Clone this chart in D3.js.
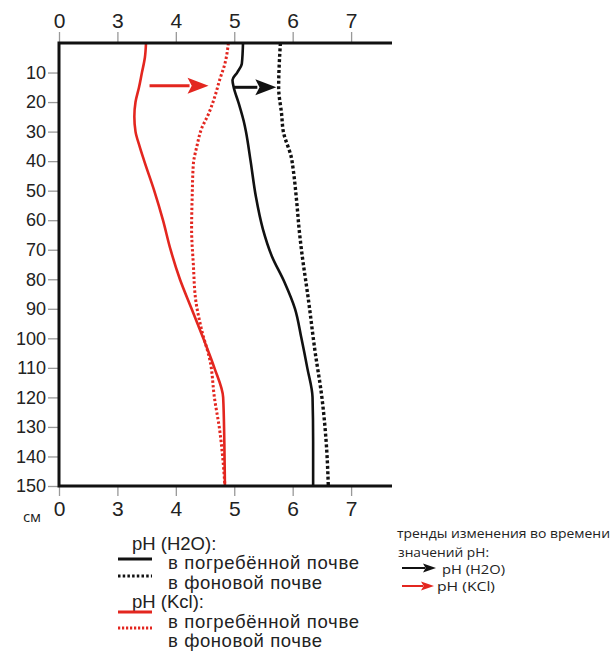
<!DOCTYPE html>
<html>
<head>
<meta charset="utf-8">
<script src="https://cdn.jsdelivr.net/npm/d3@7"></script>
<style>
  body { margin: 0; background: #fff; }
  svg { display: block; }
</style>
</head>
<body>
<svg id="chart"></svg>
<script>
// pH axis is broken: 0, then 3..7
const phTicks = [0, 3, 4, 5, 6, 7];
const depthTicks = [10, 20, 30, 40, 50, 60, 70, 80, 90, 100, 110, 120, 130, 140, 150];

// pH (H2O), buried soil
const h2oBuriedDepth = [0, 7, 10, 12.5, 15, 20, 28, 30, 40, 52, 63, 72, 81, 90, 100, 110, 120, 135, 150];
const h2oBuriedPH    = [5.15, 5.13, 5.05, 4.97, 4.99, 5.07, 5.18, 5.20, 5.28, 5.37, 5.49, 5.64, 5.86, 6.04, 6.15, 6.25, 6.34, 6.35, 6.35];

// pH (H2O), background soil
const h2oBackDepth = [0, 15, 24, 30, 39, 43, 54, 63, 70, 87, 104, 120, 137, 150];
const h2oBackPH    = [5.79, 5.76, 5.81, 5.84, 5.98, 6.01, 6.07, 6.11, 6.15, 6.27, 6.38, 6.50, 6.58, 6.61];

// pH (KCl), buried soil
const kclBuriedDepth = [0, 5, 10, 15, 20, 25, 30, 35, 40, 50, 60, 70, 80, 90, 100, 110, 120, 135, 150];
const kclBuriedPH    = [3.49, 3.47, 3.42, 3.37, 3.31, 3.29, 3.31, 3.38, 3.46, 3.63, 3.78, 3.91, 4.07, 4.27, 4.47, 4.66, 4.81, 4.83, 4.84];

// pH (KCl), background soil
const kclBackDepth = [0, 7, 12.5, 18, 24, 29, 35, 41, 52, 63, 75, 87, 97, 108, 120, 131, 142, 150];
const kclBackPH    = [4.90, 4.84, 4.75, 4.67, 4.56, 4.44, 4.36, 4.30, 4.28, 4.27, 4.30, 4.34, 4.44, 4.59, 4.66, 4.75, 4.81, 4.84];

// trend arrows drawn inside the plot: [from pH, to pH] at a depth
const trendArrows = [
  { from: 3.55, to: 4.56, depth: 14.5, color: "red" },
  { from: 4.98, to: 5.72, depth: 15, color: "black" }
];

const RED = "#e3261f";
const BLACK = "#111";

const width = 613, height = 655;
const svg = d3.select("#chart").attr("width", width).attr("height", height);

// broken scale: 0 sits where 2 would be
const x = d3.scaleLinear().domain([0, 3, 7.7]).range([59, 117.4, 392]);
const y = d3.scaleLinear().domain([0, 150]).range([43, 486]);

const zip = (ds, ps) => ds.map((d, i) => ({ depth: d, ph: ps[i] }));
const series = [
  { data: zip(kclBuriedDepth, kclBuriedPH), color: RED, dash: null, w: 2.6 },
  { data: zip(kclBackDepth, kclBackPH), color: RED, dash: "2.4,2.2", w: 3 },
  { data: zip(h2oBuriedDepth, h2oBuriedPH), color: BLACK, dash: null, w: 2.6 },
  { data: zip(h2oBackDepth, h2oBackPH), color: BLACK, dash: "3,2.4", w: 3.4 }
];

const line = d3.line()
  .x(d => x(d.ph))
  .y(d => y(d.depth))
  .curve(d3.curveMonotoneY);

svg.append("g")
  .selectAll("path")
  .data(series)
  .join("path")
  .attr("fill", "none")
  .attr("stroke", d => d.color)
  .attr("stroke-width", d => d.w)
  .attr("stroke-dasharray", d => d.dash)
  .attr("d", d => line(d.data));

// arrows
function arrow(g, x1, x2, yy, color, headLen, headHalf, w) {
  g.append("line")
    .attr("x1", x1).attr("x2", x2 - headLen + 2)
    .attr("y1", yy).attr("y2", yy)
    .attr("stroke", color).attr("stroke-width", w);
  g.append("path")
    .attr("d", `M${x2},${yy}L${x2 - headLen},${yy - headHalf}L${x2 - headLen * 0.8},${yy}L${x2 - headLen},${yy + headHalf}Z`)
    .attr("fill", color);
}
const arrowsG = svg.append("g");
trendArrows.forEach(a => {
  arrow(arrowsG, x(a.from), x(a.to), y(a.depth), a.color === "red" ? RED : BLACK, 21, 8, 3);
});

// axes
const tickFmt = d => String(d);
svg.append("g")
  .attr("transform", `translate(0,${y(0)})`)
  .call(d3.axisTop(x).tickValues(phTicks).tickFormat(tickFmt).tickSize(11).tickPadding(4))
  .call(g => g.select(".domain").remove())
  .call(g => g.selectAll(".tick line").attr("stroke", "#999").attr("stroke-width", 1.3))
  .call(g => g.selectAll(".tick text").attr("font-size", 21).attr("fill", "#222")
    .attr("font-family", "Liberation Sans, Arial, sans-serif"));

svg.append("g")
  .attr("transform", `translate(0,${y(150)})`)
  .call(d3.axisBottom(x).tickValues(phTicks).tickFormat(tickFmt).tickSize(10).tickPadding(5))
  .call(g => g.select(".domain").remove())
  .call(g => g.selectAll(".tick line").attr("stroke", "#999").attr("stroke-width", 1.3))
  .call(g => g.selectAll(".tick text").attr("font-size", 21).attr("fill", "#222")
    .attr("font-family", "Liberation Sans, Arial, sans-serif"));

svg.append("g")
  .attr("transform", `translate(${x(0)},0)`)
  .call(d3.axisLeft(y).tickValues(depthTicks).tickSize(11).tickPadding(2))
  .call(g => g.select(".domain").remove())
  .call(g => g.selectAll(".tick line").attr("stroke", "#999").attr("stroke-width", 1.3))
  .call(g => g.selectAll(".tick text").attr("font-size", 18).attr("fill", "#222")
    .attr("font-family", "Liberation Sans, Arial, sans-serif"));

// frame lines (top, left, bottom)
svg.append("path")
  .attr("d", `M${x(7.7)},${y(0)}H${x(0)}V${y(150)}H${x(7.7)}`)
  .attr("fill", "none")
  .attr("stroke", BLACK)
  .attr("stroke-width", 3);

svg.append("text")
  .attr("x", 32).attr("y", 522)
  .attr("text-anchor", "middle")
  .attr("font-family", "Open Sans, sans-serif")
  .attr("font-size", 15)
  .attr("fill", "#222")
  .text("см");

// legend (series)
const legendRows = [
  { type: "head", text: "pH (H2O):", y: 550 },
  { type: "item", text: "в погребённой почве", y: 569, color: BLACK, dash: null, ly: 559 },
  { type: "item", text: "в фоновой почве", y: 589, color: BLACK, dash: "2.5,2.2", ly: 576 },
  { type: "head", text: "pH (Kcl):", y: 608 },
  { type: "item", text: "в погребённой почве", y: 628, color: RED, dash: null, ly: 612 },
  { type: "item", text: "в фоновой почве", y: 647, color: RED, dash: "2.2,1.8", ly: 628 }
];
const leg = svg.append("g")
  .attr("font-family", "Liberation Sans, Arial, sans-serif")
  .attr("fill", "#222");
legendRows.forEach(r => {
  const t = leg.append("text")
    .attr("x", r.type === "head" ? 132 : 168)
    .attr("y", r.y)
    .attr("font-size", 18.5)
    .text(r.text);
  if (r.text === "в погребённой почве") t.attr("textLength", 191);
  if (r.text === "в фоновой почве") t.attr("textLength", 154);
  if (r.type === "item") {
    leg.append("line")
      .attr("x1", 118).attr("x2", 152)
      .attr("y1", r.ly).attr("y2", r.ly)
      .attr("stroke", r.color)
      .attr("stroke-width", 3)
      .attr("stroke-dasharray", r.dash);
  }
});

// legend (trends)
const trend = svg.append("g")
  .attr("font-family", "Open Sans, sans-serif")
  .attr("font-size", 13.5)
  .attr("fill", "#222");
trend.append("text").attr("x", 397).attr("y", 538)
  .attr("textLength", 213).attr("lengthAdjust", "spacingAndGlyphs")
  .text("тренды изменения во времени");
trend.append("text").attr("x", 398).attr("y", 557)
  .attr("textLength", 91).attr("lengthAdjust", "spacingAndGlyphs")
  .text("значений pH:");
arrow(trend, 402, 436, 568, BLACK, 13, 4.5, 2);
trend.append("text").attr("x", 442).attr("y", 574)
  .attr("textLength", 63).attr("lengthAdjust", "spacingAndGlyphs")
  .text("pH (H2O)");
arrow(trend, 402, 434, 586, RED, 13, 4.5, 2);
trend.append("text").attr("x", 437).attr("y", 591)
  .attr("textLength", 58).attr("lengthAdjust", "spacingAndGlyphs")
  .text("pH (KCl)");
</script>
</body>
</html>
